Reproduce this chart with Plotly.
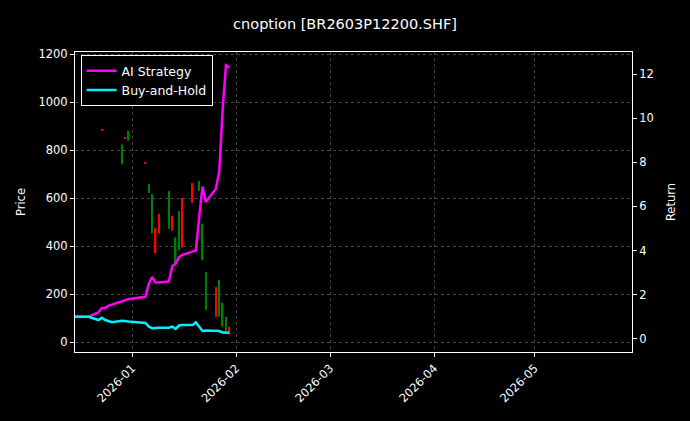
import plotly.graph_objects as go

# trading days and returns
dates = ["2025-12-15", "2025-12-16", "2025-12-17", "2025-12-18", "2025-12-19",
         "2025-12-22", "2025-12-23", "2025-12-24", "2025-12-25", "2025-12-26",
         "2025-12-29", "2025-12-30", "2025-12-31",
         "2026-01-05", "2026-01-06", "2026-01-07", "2026-01-08", "2026-01-09",
         "2026-01-12", "2026-01-13", "2026-01-14", "2026-01-15", "2026-01-16",
         "2026-01-19", "2026-01-20", "2026-01-21", "2026-01-22", "2026-01-23",
         "2026-01-26", "2026-01-27", "2026-01-28", "2026-01-29", "2026-01-30"]
ai_strategy = [1.0, 1.0, 1.0, 1.0, 1.0,
               1.2, 1.4, 1.4, 1.5, 1.55,
               1.7, 1.75, 1.8,
               1.9, 2.5, 2.8, 2.55, 2.55,
               2.6, 3.3, 3.4, 3.7, 3.8,
               3.95, 4.0, 5.5, 6.9, 6.2,
               6.8, 7.6, 10.4, 12.4, 12.3]
buy_hold = [1.0, 1.0, 1.0, 1.0, 1.0,
            0.85, 0.95, 0.85, 0.8, 0.75,
            0.82, 0.8, 0.78,
            0.72, 0.55, 0.48, 0.5, 0.5,
            0.5, 0.55, 0.45, 0.6, 0.62,
            0.62, 0.75, 0.55, 0.35, 0.37,
            0.38, 0.35, 0.28, 0.27, 0.27]

# option bars
bar_dates = ["2025-12-23", "2025-12-29", "2025-12-30", "2025-12-31", "2026-01-05",
             "2026-01-06", "2026-01-07", "2026-01-08", "2026-01-09", "2026-01-12",
             "2026-01-13", "2026-01-14", "2026-01-15", "2026-01-16", "2026-01-19",
             "2026-01-21", "2026-01-22", "2026-01-23", "2026-01-26", "2026-01-27",
             "2026-01-28", "2026-01-29", "2026-01-30"]
opens = [882, 825, 850, 882, 746, 660, 618, 371, 454, 631, 466, 437, 548, 396, 581,
         672, 495, 293, 107, 260, 165, 107, 33]
closes = [882, 742, 851, 841, 747, 623, 454, 478, 536, 474, 528, 330, 384, 602, 664,
          631, 342, 136, 231, 107, 66, 41, 66]

lows = [min(o, c) for o, c in zip(opens, closes)]
spans = [max(abs(c - o), 4) for o, c in zip(opens, closes)]
colors = ["red" if c >= o else "green" for o, c in zip(opens, closes)]

fig = go.Figure()
fig.add_trace(go.Bar(x=bar_dates, y=spans, base=lows, marker=dict(color=colors, line=dict(width=0)),
                     width=40000000, showlegend=False, hoverinfo="skip"))
fig.add_trace(go.Scatter(x=dates, y=ai_strategy, name="AI Strategy", yaxis="y2",
                         mode="lines", line=dict(color="#ff00ff", width=2.5)))
fig.add_trace(go.Scatter(x=dates, y=buy_hold, name="Buy-and-Hold", yaxis="y2",
                         mode="lines", line=dict(color="#00f0ff", width=2.5)))

grid = dict(showgrid=True, gridcolor="#444444", griddash="3px,3px", gridwidth=0.5,
            showline=True, linecolor="white", mirror=True, ticks="outside",
            tickcolor="white", ticklen=4, zeroline=False)
fig.update_layout(
    width=690, height=421,
    paper_bgcolor="black", plot_bgcolor="black",
    font=dict(family="DejaVu Sans", color="white", size=11.5),
    title=dict(text="cnoption [BR2603P12200.SHF]", x=0.5, xanchor="center",
               y=0.955, font=dict(size=14.5)),
    margin=dict(l=75, r=58, t=52, b=69),
    xaxis=dict(**grid, type="date", range=["2025-12-15", "2026-05-30"],
               tickangle=-45,
               tickvals=["2026-01-01", "2026-02-01", "2026-03-01", "2026-04-01", "2026-05-01"],
               ticktext=["2026-01", "2026-02", "2026-03", "2026-04", "2026-05"]),
    yaxis=dict(**grid, title=dict(text="Price", standoff=10, font=dict(size=11.5)),
               range=[-40, 1210], tickvals=[0, 200, 400, 600, 800, 1000, 1200]),
    yaxis2=dict(overlaying="y", side="right", showgrid=False, showline=False,
                ticks="outside", tickcolor="white", ticklen=4, zeroline=False,
                title=dict(text="Return", standoff=14, font=dict(size=11.5)), range=[-0.6, 13.0],
                tickvals=[0, 2, 4, 6, 8, 10, 12]),
    legend=dict(x=0.01, y=0.99, xanchor="left", yanchor="top",
                bgcolor="black", bordercolor="white", borderwidth=1,
                font=dict(size=12.5)),
)

fig.write_html("out.html", config={"displayModeBar": False},
               post_script="document.body.style.margin='0';document.body.style.background='black';")
